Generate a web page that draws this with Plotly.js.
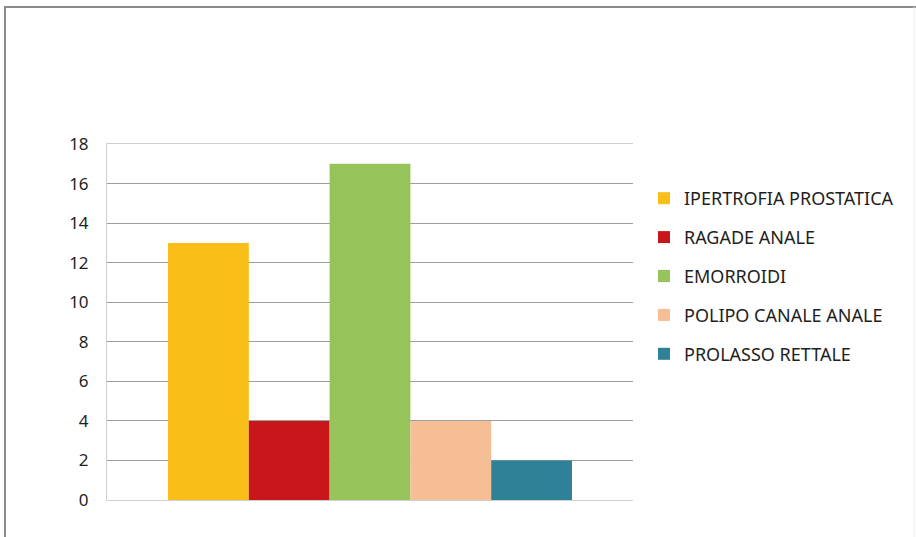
<!DOCTYPE html>
<html>
<head>
<meta charset="utf-8">
<script src="https://cdn.plot.ly/plotly-3.0.1.min.js"></script>
<style>
  html, body { margin: 0; padding: 0; background: #ffffff; }
  #chart { width: 916px; height: 537px; }
</style>
</head>
<body>
<div id="chart"></div>
<script>
const categories = ["IPERTROFIA PROSTATICA", "RAGADE ANALE", "EMORROIDI", "POLIPO CANALE ANALE", "PROLASSO RETTALE"];
const values = [13, 4, 17, 4, 2];
const colors = ["#FABE18", "#C9161B", "#96C45A", "#F6BE95", "#2F8198"];
const groupLabel = [""];
const yTicks = [0, 2, 4, 6, 8, 10, 12, 14, 16, 18];

const traces = categories.map((name, i) => ({
  type: "bar",
  name: name,
  x: groupLabel,
  y: [values[i]],
  marker: { color: colors[i], line: { width: 0 } },
  legendgroup: "g" + i,
  hoverinfo: "name+y"
}));

// plot area: x 107..633, y 144..500
const L = 107, R = 633, T = 144, B = 500;
const px = v => (v - L) / (R - L);
const py = v => (B - v) / (B - T);

const layout = {
  width: 916,
  height: 537,
  margin: { l: L, r: 916 - R, t: T, b: 537 - B, pad: 0 },
  paper_bgcolor: "#ffffff",
  plot_bgcolor: "#ffffff",
  font: { family: "Noto Sans, Liberation Sans, sans-serif", size: 17, color: "#1e1e1e" },
  barmode: "group",
  bargap: 0.232,
  bargroupgap: 0,
  showlegend: true,
  legend: {
    x: px(644), xanchor: "left",
    y: py(180), yanchor: "top",
    font: { size: 18, color: "#1e1e1e" },
    tracegroupgap: 12.5,
    itemwidth: 30,
    bgcolor: "rgba(0,0,0,0)"
  },
  xaxis: {
    type: "category",
    showticklabels: false,
    ticks: "",
    showgrid: false,
    showline: true,
    linecolor: "#cfcfcf",
    linewidth: 1,
    mirror: true,
    zeroline: false,
    fixedrange: true
  },
  yaxis: {
    range: [0, 18],
    tickvals: yTicks,
    ticktext: yTicks.map(String),
    showgrid: true,
    gridcolor: "#9e9e9e",
    gridwidth: 1,
    showline: true,
    linecolor: "#cfcfcf",
    linewidth: 1,
    zeroline: false,
    ticks: "",
    ticklabelstandoff: 14,
    tickfont: { size: 17, color: "#1e1e1e" },
    fixedrange: true
  },
  shapes: [
    { type: "line", xref: "paper", yref: "paper", x0: px(4), x1: px(916), y0: py(7), y1: py(7), line: { color: "#8a8a8a", width: 2 } },
    { type: "line", xref: "paper", yref: "paper", x0: px(5), x1: px(5), y0: py(6), y1: py(537), line: { color: "#8a8a8a", width: 2 } },
    { type: "line", xref: "paper", yref: "paper", x0: px(914), x1: px(914), y0: py(7), y1: py(537), line: { color: "#ededed", width: 1 } }
  ]
};

Plotly.newPlot("chart", traces, layout, { displayModeBar: false });
</script>
</body>
</html>
